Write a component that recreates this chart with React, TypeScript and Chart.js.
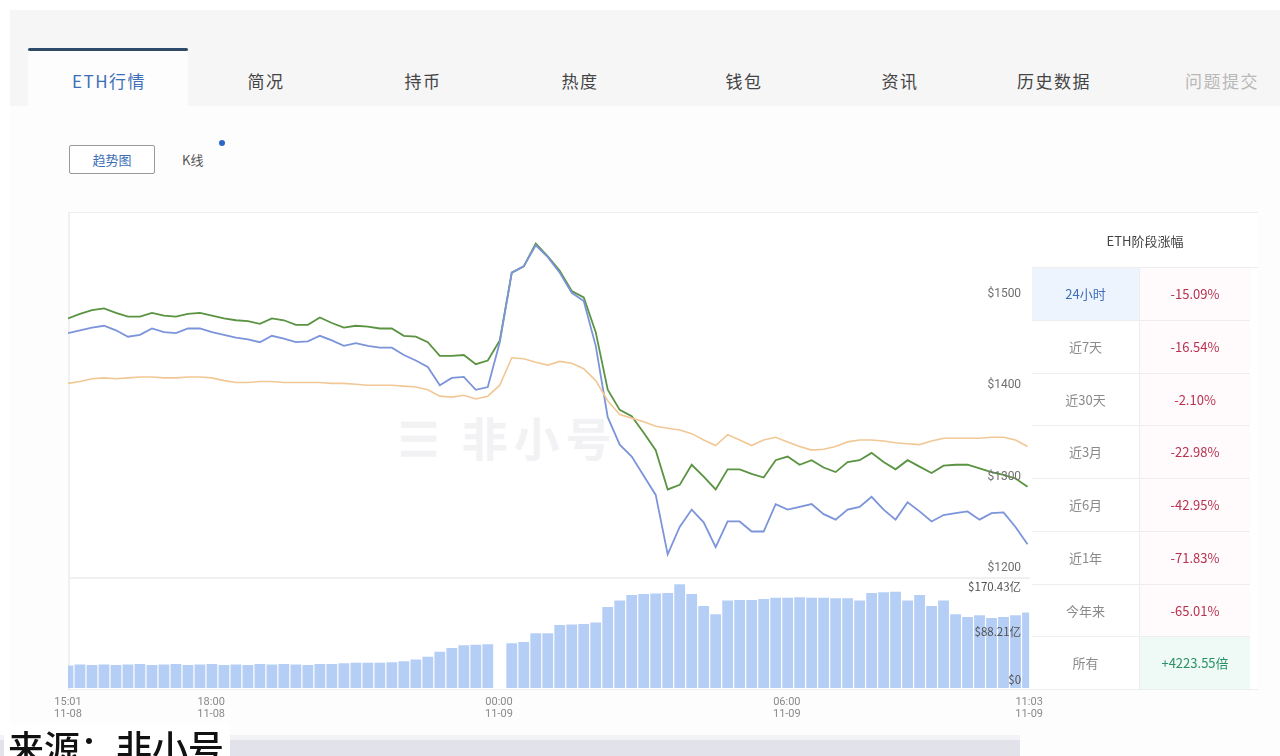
import React, { useEffect, useRef } from "react";
import { Chart, registerables } from "chart.js";
Chart.register(...registerables);

// minutes since 15:01 (11-08), 15-minute grid
const times = [
  0, 15, 30, 45, 60, 75, 90, 105, 120, 135, 150, 165, 180, 195, 210, 225, 240, 255, 270, 285,
  300, 315, 330, 345, 360, 375, 390, 405, 420, 435, 450, 465, 480, 495, 510, 525, 540, 555, 570, 585,
  600, 615, 630, 645, 660, 675, 690, 705, 720, 735, 750, 765, 780, 795, 810, 825, 840, 855, 870, 885,
  900, 915, 930, 945, 960, 975, 990, 1005, 1020, 1035, 1050, 1065, 1080, 1095, 1110, 1125, 1140, 1155, 1170, 1185,
  1200,
];

const priceGreen = [
  1473, 1478, 1482, 1484, 1479, 1475, 1475, 1479, 1476, 1475, 1478, 1479, 1476, 1473, 1471, 1470, 1467, 1473, 1471, 1466,
  1466, 1474, 1468, 1463, 1465, 1464, 1462, 1462, 1454, 1453, 1447, 1432, 1432, 1433, 1423, 1427, 1449, 1523, 1530, 1555,
  1541, 1525, 1503, 1496, 1458, 1395, 1373, 1366, 1348, 1329, 1286, 1291, 1313, 1300, 1286, 1308, 1308, 1303, 1299, 1318,
  1322, 1313, 1318, 1310, 1305, 1316, 1318, 1326, 1316, 1308, 1318, 1311, 1304, 1312, 1313, 1313, 1309, 1305, 1302, 1298,
  1289,
];

const priceBlue = [
  1457, 1460, 1463, 1465, 1460, 1453, 1455, 1462, 1458, 1457, 1462, 1462, 1458, 1455, 1452, 1450, 1447, 1454, 1451, 1447,
  1448, 1454, 1449, 1443, 1446, 1443, 1441, 1441, 1433, 1427, 1420, 1400, 1408, 1409, 1395, 1398, 1447, 1523, 1530, 1553,
  1540, 1523, 1501, 1492, 1443, 1365, 1335, 1322, 1301, 1280, 1215, 1245, 1264, 1250, 1223, 1251, 1251, 1240, 1240, 1270,
  1264, 1267, 1270, 1259, 1253, 1264, 1267, 1278, 1264, 1253, 1272, 1262, 1251, 1258, 1260, 1262, 1253, 1260, 1261, 1245,
  1226,
];

const priceOrange = [
  1402, 1404, 1407, 1408, 1407, 1408, 1409, 1409, 1408, 1408, 1409, 1409, 1408, 1405, 1403, 1403, 1404, 1404, 1403, 1403,
  1403, 1403, 1402, 1402, 1401, 1400, 1400, 1400, 1399, 1398, 1395, 1388, 1387, 1389, 1385, 1388, 1400, 1430, 1429, 1425,
  1422, 1426, 1424, 1418, 1405, 1383, 1368, 1364, 1360, 1355, 1353, 1351, 1347, 1340, 1334, 1346, 1340, 1334, 1340, 1343,
  1338, 1333, 1329, 1330, 1333, 1338, 1340, 1340, 1339, 1337, 1336, 1335, 1339, 1342, 1342, 1342, 1342, 1343, 1343, 1340,
  1333,
];

// 24h volume, 亿 USD
const volume = [
  41, 43, 42, 43, 42, 43, 44, 42, 43, 44, 42, 43, 44, 42, 43, 42, 44, 43, 44, 43,
  42, 44, 44, 45, 46, 46, 46, 47, 49, 52, 57, 66, 73, 78, 79, 80, 0, 82, 84, 100,
  100, 115, 116, 117, 120, 148, 160, 170, 172, 173, 174, 190, 172, 150, 135, 160, 161, 161, 163, 165,
  165, 166, 165, 165, 164, 164, 160, 174, 175, 176, 160, 170, 150, 160, 135, 130, 133, 128, 130, 133,
  138,
];

const xTickValues = [0, 179, 539, 899, 1202];
const xTickLabels = [
  ["15:01", "11-08"],
  ["18:00", "11-08"],
  ["00:00", "11-09"],
  ["06:00", "11-09"],
  ["11:03", "11-09"],
];
const priceTicks = [1200, 1300, 1400, 1500];
const volumeTicks = [0, 88.21, 170.43];
const volumeTickLabels = ["$0", "$88.21亿", "$170.43亿"];

const tabs = ["ETH行情", "简况", "持币", "热度", "钱包", "资讯", "历史数据", "问题提交"];
const periodLabels = ["24小时", "近7天", "近30天", "近3月", "近6月", "近1年", "今年来", "所有"];
const periodValues = ["-15.09%", "-16.54%", "-2.10%", "-22.98%", "-42.95%", "-71.83%", "-65.01%", "+4223.55倍"];

const CJK = '"Noto Sans CJK SC", "Noto Sans", sans-serif';

const zeroPad = (s: any) => {
  s.paddingTop = 0;
  s.paddingBottom = 0;
  s.width = 0;
};

function PriceChart() {
  const ref = useRef<HTMLCanvasElement | null>(null);
  useEffect(() => {
    if (!ref.current) return;
    const pts = (arr: number[]) => times.map((t, i) => ({ x: t, y: arr[i] }));
    const chart = new Chart(ref.current, {
      data: {
        datasets: [
          {
            type: "line",
            label: "价格(USD)",
            data: pts(priceOrange),
            borderColor: "#f2c796",
            borderWidth: 1.6,
            pointRadius: 0,
            yAxisID: "y",
          },
          {
            type: "line",
            label: "价格(BTC)",
            data: pts(priceBlue),
            borderColor: "#7c94da",
            borderWidth: 1.8,
            pointRadius: 0,
            yAxisID: "y",
          },
          {
            type: "line",
            label: "价格",
            data: pts(priceGreen),
            borderColor: "#5a9342",
            borderWidth: 1.8,
            pointRadius: 0,
            yAxisID: "y",
          },
          {
            type: "bar",
            label: "成交额",
            data: pts(volume),
            backgroundColor: "rgba(168,198,243,0.85)",
            barPercentage: 1,
            categoryPercentage: 0.9,
            yAxisID: "yv",
          },
        ],
      } as any,
      options: {
        animation: false,
        responsive: false,
        maintainAspectRatio: false,
        layout: { padding: { left: 28, right: 12, top: 4, bottom: 0 } },
        plugins: { legend: { display: false }, tooltip: { enabled: false } },
        scales: {
          x: {
            type: "linear",
            min: 0,
            max: 1202,
            offset: false,
            grid: { display: false, offset: false },
            border: { display: false },
            afterBuildTicks: (s: any) => {
              s.ticks = xTickValues.map((v) => ({ value: v }));
            },
            ticks: {
              autoSkip: false,
              maxRotation: 0,
              padding: 1,
              color: "#8a8a8a",
              font: { size: 11, family: "Roboto, sans-serif", lineHeight: 1.05 },
              callback: (v: any) => {
                const i = xTickValues.indexOf(Number(v));
                return i >= 0 ? xTickLabels[i] : "";
              },
            },
          },
          y: {
            type: "linear",
            position: "right",
            stack: "main",
            stackWeight: 3.3,
            min: 1189,
            max: 1585,
            grid: { display: false, drawTicks: false },
            border: { display: false },
            afterBuildTicks: (s: any) => {
              s.ticks = priceTicks.map((v) => ({ value: v }));
            },
            afterFit: zeroPad,
            ticks: {
              z: 1,
              mirror: true,
              padding: -8,
              color: "#6f6f6f",
              font: { size: 12, family: "Roboto, sans-serif" },
              callback: (v: any) => "$" + v,
            },
          },
          yv: {
            type: "linear",
            position: "right",
            stack: "main",
            stackWeight: 1,
            min: 0,
            max: 201,
            grid: { display: false, drawTicks: false },
            border: { display: false },
            afterBuildTicks: (s: any) => {
              s.ticks = volumeTicks.map((v) => ({ value: v }));
            },
            afterFit: zeroPad,
            ticks: {
              z: 1,
              mirror: true,
              padding: -8,
              labelOffset: -8,
              color: "#505050",
              font: { size: 11.5, family: CJK },
              callback: (v: any) => {
                const i = volumeTicks.indexOf(Number(v));
                return i >= 0 ? volumeTickLabels[i] : "";
              },
            },
          },
        },
      } as any,
    });
    return () => chart.destroy();
  }, []);
  return <canvas ref={ref} width={1004} height={509} style={{ display: "block", width: 1004, height: 509 }} />;
}

const tabCenters = [109, 266, 423, 580, 744, 900, 1054, 1222];

export default function App() {
  return (
    <div
      style={{
        position: "absolute",
        left: 0,
        top: 0,
        width: 1280,
        height: 756,
        overflow: "hidden",
        background: "#ffffff",
        fontFamily: CJK,
      }}
    >
      {/* content panel */}
      <div style={{ position: "absolute", left: 10, top: 10, width: 1270, height: 746, background: "#fdfdfd" }} />
      {/* tab bar */}
      <div style={{ position: "absolute", left: 10, top: 10, width: 1270, height: 96, background: "#f6f6f6" }} />
      <div style={{ position: "absolute", left: 28, top: 50, width: 160, height: 57, background: "#fdfdfd" }} />
      <div style={{ position: "absolute", left: 28, top: 48, width: 160, height: 3, background: "#2f4a68", borderRadius: 2 }} />
      {tabs.map((t, i) => (
        <div
          key={t}
          style={{
            position: "absolute",
            left: tabCenters[i] - 60,
            width: 120,
            top: 70,
            textAlign: "center",
            fontSize: 17,
            lineHeight: "22px",
            letterSpacing: 1.5,
            color: i === 0 ? "#3d6fb8" : i === tabs.length - 1 ? "#b8b8b8" : "#444",
          }}
        >
          {t}
        </div>
      ))}

      {/* chart type buttons */}
      <div
        style={{
          position: "absolute",
          left: 69,
          top: 145,
          width: 86,
          height: 29,
          border: "1px solid #9a9a9a",
          boxSizing: "border-box",
          borderRadius: 2,
          color: "#3d6fb8",
          fontSize: 13,
          lineHeight: "27px",
          textAlign: "center",
          background: "#fff",
        }}
      >
        趋势图
      </div>
      <div style={{ position: "absolute", left: 182, top: 150, fontSize: 13, lineHeight: "20px", color: "#555" }}>K线</div>
      <div
        style={{ position: "absolute", left: 219, top: 140, width: 6, height: 6, borderRadius: 3, background: "#2a66c8" }}
      />

      {/* chart frame */}
      <div
        style={{
          position: "absolute",
          left: 68,
          top: 212,
          width: 1190,
          height: 478,
          borderTop: "1px solid #eeeeee",
          borderLeft: "2px solid #f0f0f0",
          borderBottom: "1px solid #eeeeee",
          boxSizing: "border-box",
          background: "#fff",
        }}
      />
      <div style={{ position: "absolute", left: 68, top: 577, width: 962, height: 2, background: "#f0f0f0" }} />
      {/* watermark */}
      <div
        style={{
          position: "absolute",
          left: 398,
          top: 408,
          fontSize: 46,
          lineHeight: "56px",
          color: "#f2f2f4",
          fontWeight: 700,
          letterSpacing: 6,
        }}
      >
        ☰ 非小号
      </div>
      <div style={{ position: "absolute", left: 40, top: 212 }}>
        <PriceChart />
      </div>

      {/* stage change table */}
      <div
        style={{
          position: "absolute",
          left: 1032,
          top: 213,
          width: 226,
          height: 55,
          textAlign: "center",
          lineHeight: "55px",
          fontSize: 13,
          color: "#444",
          borderBottom: "1px solid #eee",
          boxSizing: "border-box",
        }}
      >
        ETH阶段涨幅
      </div>
      {periodLabels.map((p, i) => {
        const top = 268 + i * 52.75;
        const v = periodValues[i];
        const up = v.startsWith("+");
        return (
          <React.Fragment key={p}>
            <div
              style={{
                position: "absolute",
                left: 1032,
                top,
                width: 108,
                height: 52.75,
                lineHeight: "52px",
                textAlign: "center",
                fontSize: 13,
                color: i === 0 ? "#3d6fb8" : "#8a8a8a",
                background: i === 0 ? "#eef4fd" : "transparent",
                borderBottom: "1px solid #eeeeee",
                borderRight: "1px solid #eeeeee",
                boxSizing: "border-box",
              }}
            >
              {p}
            </div>
            <div
              style={{
                position: "absolute",
                left: 1140,
                top,
                width: 110,
                height: 52.75,
                lineHeight: "52px",
                textAlign: "center",
                fontSize: 13,
                color: up ? "#2a9266" : "#b8324f",
                background: up ? "#effaf6" : "#fffafb",
                borderBottom: "1px solid #eeeeee",
                boxSizing: "border-box",
              }}
            >
              {v}
            </div>
          </React.Fragment>
        );
      })}

      {/* bottom caption strip */}
      <div style={{ position: "absolute", left: 0, top: 740, width: 1020, height: 16, background: "#e2e2ea" }} />
      <div style={{ position: "absolute", left: 0, top: 735, width: 1020, height: 5, background: "#f3f3f7" }} />
      <div
        style={{
          position: "absolute",
          left: 4,
          top: 724,
          fontSize: 36,
          lineHeight: "44px",
          color: "#111",
          fontWeight: 500,
          background: "#ffffff",
          paddingLeft: 4,
          paddingRight: 6,
        }}
      >
        来源：非小号
      </div>
    </div>
  );
}
